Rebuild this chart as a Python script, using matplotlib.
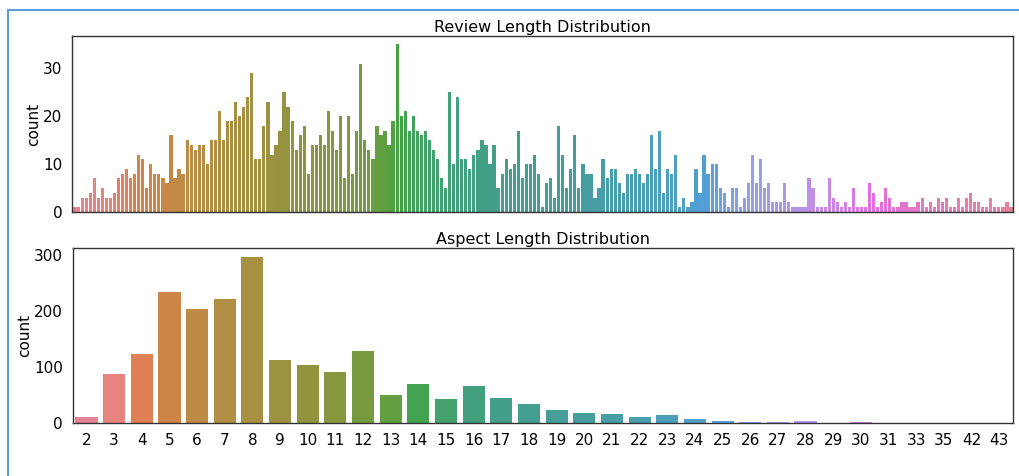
import math
import colorsys
import matplotlib
matplotlib.use('Agg')
import matplotlib.pyplot as plt
from matplotlib.lines import Line2D
import numpy as np

# review length counts (one bar per distinct length, x labels hidden)
review_counts = [
    1, 1, 3, 3, 4, 7, 3, 5, 3, 3, 4, 7, 8, 9, 7, 8, 12, 11, 5, 10,
    8, 8, 7, 6, 16, 7, 9, 8, 15, 14, 13, 14, 14, 10, 15, 15, 21, 15, 19, 19,
    23, 20, 22, 24, 29, 11, 11, 18, 23, 12, 14, 17, 25, 22, 19, 13,
    16, 18, 8, 14, 14, 16, 14, 21, 17, 13, 20, 7, 20, 8, 17, 31, 15, 13, 11, 18,
    16, 17, 14, 19, 35, 20, 21, 17, 20, 17, 16, 17, 15, 13, 11, 7, 5, 25, 10, 24,
    11, 11, 9, 12, 13, 15, 14, 10, 14, 5, 8, 11, 9, 10, 17, 7, 10, 10, 12,
    8, 1, 6, 7, 3, 18, 12, 5, 9, 16, 5, 10, 8, 8, 3, 5, 11, 7, 9, 9,
    6, 4, 8, 8, 9, 8, 6, 8, 16, 9, 17, 4, 9, 8, 12, 1, 3, 1, 2, 9,
    4, 12, 8, 10, 10, 5, 4, 1, 5, 5, 1, 3, 6, 12, 6, 11, 5, 6, 2, 2,
    2, 6, 2, 1, 1, 1, 1, 7, 5, 1, 1, 1, 7, 3, 2, 1, 2, 1, 5, 1,
    1, 1, 6, 4, 1, 2, 5, 3, 1, 1, 2, 2, 1, 1, 2, 3, 1, 2, 1, 3,
    2, 3, 1, 1, 3, 1, 3, 4, 2, 2, 1, 1, 3, 1, 1, 1, 2, 1,
]

aspect_lengths = ['2', '3', '4', '5', '6', '7', '8', '9', '10', '11', '12', '13',
                  '14', '15', '16', '17', '18', '19', '20', '21', '22', '23', '24',
                  '25', '26', '27', '28', '29', '30', '31', '33', '35', '42', '43']
aspect_counts = [12, 89, 124, 235, 205, 223, 298, 113, 104, 91, 130, 50,
                 71, 43, 66, 45, 34, 23, 19, 16, 12, 14, 8,
                 5, 3, 3, 4, 1, 2, 1, 1, 1, 1, 1]

# husl palette, same maths as seaborn's husl module
M = [[3.2406, -1.5372, -0.4986],
     [-0.9689, 1.8758, 0.0415],
     [0.0557, -0.2040, 1.0570]]
REF_U, REF_V, KAPPA = 0.19784, 0.46834, 903.3


def max_chroma(L, H):
    hrad = math.radians(H)
    sin_h, cos_h = math.sin(hrad), math.cos(hrad)
    sub1 = (L + 16) ** 3 / 1560896.0
    sub2 = sub1 if sub1 > 0.008856 else L / KAPPA
    result = float('inf')
    for m1, m2, m3 in M:
        top = (0.99915 * m1 + 1.05122 * m2 + 1.14460 * m3) * sub2
        rbottom = 0.86330 * m3 - 0.17266 * m2
        lbottom = 0.12949 * m3 - 0.38848 * m1
        bottom = (rbottom * sin_h + lbottom * cos_h) * sub2
        for t in (0.0, 1.0):
            C = L * (top - 1.05122 * t) / (bottom + 0.17266 * sin_h * t)
            if 0.0 < C < result:
                result = C
    return result


def husl_to_rgb(h, s, l):
    C = max_chroma(l, h) / 100.0 * s
    hrad = math.radians(h)
    U, V = math.cos(hrad) * C, math.sin(hrad) * C
    var_y = ((l + 16) / 116.0) ** 3 if l > 8 else l / KAPPA
    var_u = U / (13 * l) + REF_U
    var_v = V / (13 * l) + REF_V
    Y = var_y
    X = -(9.0 * Y * var_u) / ((var_u - 4.0) * var_v - var_u * var_v)
    Z = (9.0 * Y - 15.0 * var_v * Y - var_v * X) / (3.0 * var_v)
    rgb = []
    for row in M:
        c = row[0] * X + row[1] * Y + row[2] * Z
        c = 12.92 * c if c <= 0.0031308 else 1.055 * c ** (1 / 2.4) - 0.055
        rgb.append(min(max(c, 0.0), 1.0))
    return rgb


def husl_palette(n, saturation=0.75):
    hues = (np.linspace(0, 1, n + 1)[:-1] + 0.01) % 1 * 359
    colors = []
    for h in hues:
        r, g, b = husl_to_rgb(h, 0.9 * 99, 0.65 * 99)
        hh, ll, ss = colorsys.rgb_to_hls(r, g, b)
        colors.append(colorsys.hls_to_rgb(hh, ll, ss * saturation))
    return colors


plt.rcParams['font.family'] = 'DejaVu Sans'
plt.rcParams['font.size'] = 11

fig = plt.figure(figsize=(10.19, 4.76), dpi=100)
ax1 = fig.add_axes([0.0707, 0.5546, 0.9234, 0.3698])
ax2 = fig.add_axes([0.0713, 0.1107, 0.9228, 0.3677])

x1 = np.arange(len(review_counts))
ax1.bar(x1, review_counts, width=0.8, color=husl_palette(len(review_counts)))
ax1.set_xlim(-0.5, len(review_counts) - 0.5)
ax1.set_xticks([])
ax1.set_yticks([0, 10, 20, 30])
ax1.set_ylabel('count', fontsize=11, labelpad=1.5)
ax1.set_title('Review Length Distribution', fontsize=11.5, pad=3)

x2 = np.arange(len(aspect_lengths))
ax2.bar(x2, aspect_counts, width=0.8, color=husl_palette(len(aspect_lengths)))
ax2.set_xlim(-0.5, len(aspect_lengths) - 0.5)
ax2.set_xticks(x2)
ax2.set_xticklabels(aspect_lengths)
ax2.set_yticks([0, 100, 200, 300])
ax2.set_ylabel('count', fontsize=11, labelpad=1.5)
ax2.set_title('Aspect Length Distribution', fontsize=11.5, pad=3)

for ax in (ax1, ax2):
    # no visible tick marks, labels kept at the usual distance
    ax.tick_params(labelsize=11, length=0, pad=7)
    for sp in ax.spines.values():
        sp.set_color('#333333')
        sp.set_linewidth(1.0)

# frame of the output cell
fig.add_artist(Line2D([8 / 1019, 1], [0.979, 0.979], color='#5b9bd5', lw=1.5))
fig.add_artist(Line2D([8 / 1019, 8 / 1019], [0, 0.979], color='#5b9bd5', lw=1.5))

fig.savefig('out.png', dpi=100)
